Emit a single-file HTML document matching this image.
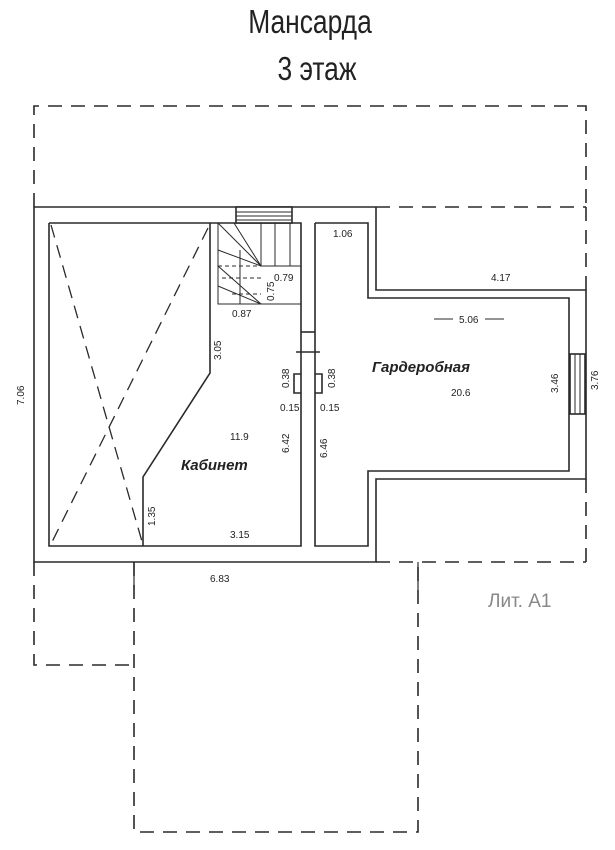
<!DOCTYPE html>
<html><head><meta charset="utf-8"><style>
html,body{margin:0;padding:0;background:#fff;}
svg{display:block;}
text{font-family:"Liberation Sans Narrow","Liberation Sans",sans-serif;fill:#222;}
</style></head><body>
<svg width="615" height="850" viewBox="0 0 615 850" xmlns="http://www.w3.org/2000/svg">
<g fill="none" stroke="#2a2a2a" stroke-width="1.6">
<!-- dashed outlines -->
<g stroke-dasharray="14,9">
<polyline points="34,207 34,106 586,106 586,207"/>
<line x1="376" y1="207" x2="586" y2="207"/>
<line x1="586" y1="207" x2="586" y2="290"/>
<line x1="586" y1="479" x2="586" y2="562"/>
<line x1="376" y1="562" x2="586" y2="562"/>
<polyline points="34,562 34,665 134,665"/>
<polyline points="134,562 134,832 418,832 418,562"/>
</g>
<!-- outer solid walls -->
<polyline points="376,207 34,207 34,562 376,562 376,479 586,479 586,290 376,290 376,207"/>
<!-- inner -->
<polyline points="49,223 301,223 301,546 49,546 49,223"/>
<polyline points="315,223 368,223 368,298 569,298 569,471 368,471 368,546 315,546 315,223"/>
<!-- kabinet sloped wall -->
<polyline points="210,223 210,373 143,477 143,546"/>
<!-- dashed X -->
<g stroke-dasharray="13,8" stroke-width="1.3">
<line x1="51" y1="225" x2="143" y2="545"/>
<line x1="208" y1="228" x2="51" y2="544"/>
</g>
<!-- stair top opening -->
<rect x="236" y="207" width="56" height="16" fill="#fff"/>
<g stroke-width="1">
<line x1="236" y1="212" x2="292" y2="212"/>
<line x1="236" y1="216" x2="292" y2="216"/>
<line x1="236" y1="220" x2="292" y2="220"/>
</g>
<!-- stairs -->
<g stroke-width="1">
<polyline points="218,223 218,304 301,304"/>
<line x1="261" y1="223" x2="261" y2="266"/>
<line x1="275" y1="223" x2="275" y2="266"/>
<line x1="290" y1="223" x2="290" y2="266"/>
<line x1="261" y1="266" x2="301" y2="266"/>
<line x1="218" y1="223" x2="261" y2="266"/>
<line x1="234" y1="223" x2="261" y2="266"/>
<line x1="218" y1="250" x2="261" y2="266"/>
<line x1="218" y1="266" x2="261" y2="304"/>
<line x1="218" y1="286" x2="261" y2="304"/>
<line x1="240" y1="250" x2="240" y2="304"/>
<line x1="218" y1="266" x2="261" y2="266" stroke-dasharray="4,3"/>
<line x1="222" y1="278" x2="261" y2="278" stroke-dasharray="4,3"/>
<line x1="232" y1="294" x2="261" y2="294" stroke-dasharray="4,3"/>
</g>
<!-- door -->
<rect x="302" y="330" width="12" height="44" fill="#fff" stroke="none"/>
<line x1="301" y1="332" x2="315" y2="332"/>
<line x1="296" y1="352" x2="320" y2="352"/>
<polyline points="301,374 294,374 294,393 301,393"/>
<polyline points="315,374 322,374 322,393 315,393"/>
<!-- window -->
<rect x="570" y="354" width="15" height="60" fill="#fff"/>
<line x1="575" y1="354" x2="575" y2="414" stroke-width="1"/>
<line x1="580" y1="354" x2="580" y2="414" stroke-width="1"/>
<!-- 5.06 dim lines -->
<line x1="434" y1="319" x2="453" y2="319" stroke-width="1"/>
<line x1="485" y1="319" x2="504" y2="319" stroke-width="1"/>
<!-- dim ticks -->
<line x1="134" y1="562" x2="134" y2="590" stroke-width="1.2"/>
<line x1="418" y1="562" x2="418" y2="590" stroke-width="1.2"/>
</g>
<!-- titles -->
<text x="310" y="33" font-size="33" text-anchor="middle" transform="translate(310,0) scale(0.8,1) translate(-310,0)">Мансарда</text>
<text x="317" y="80" font-size="33" text-anchor="middle" transform="translate(317,0) scale(0.8,1) translate(-317,0)">3 этаж</text>
<g font-size="10">
<text x="333" y="237">1.06</text>
<text x="274" y="281">0.79</text>
<text x="232" y="317">0.87</text>
<text x="491" y="281">4.17</text>
<text x="459" y="323">5.06</text>
<text x="451" y="396">20.6</text>
<text x="230" y="440">11.9</text>
<text x="230" y="538">3.15</text>
<text x="210" y="582">6.83</text>
<text x="280" y="411">0.15</text>
<text x="320" y="411">0.15</text>
<text transform="translate(274,301) rotate(-90)">0.75</text>
<text transform="translate(221,360) rotate(-90)">3.05</text>
<text transform="translate(289,388) rotate(-90)">0.38</text>
<text transform="translate(335,388) rotate(-90)">0.38</text>
<text transform="translate(289,453) rotate(-90)">6.42</text>
<text transform="translate(327,458) rotate(-90)">6.46</text>
<text transform="translate(155,526) rotate(-90)">1.35</text>
<text transform="translate(558,393) rotate(-90)">3.46</text>
<text transform="translate(598,390) rotate(-90)">3.76</text>
<text transform="translate(24,405) rotate(-90)">7.06</text>
</g>
<g font-family="Liberation Sans,sans-serif" font-size="15" font-weight="bold" font-style="italic">
<text x="181" y="470">Кабинет</text>
<text x="372" y="372">Гардеробная</text>
</g>
<text x="488" y="607" font-size="19" fill="#888" style="fill:#888">Лит. А1</text>
</svg>
</body></html>
